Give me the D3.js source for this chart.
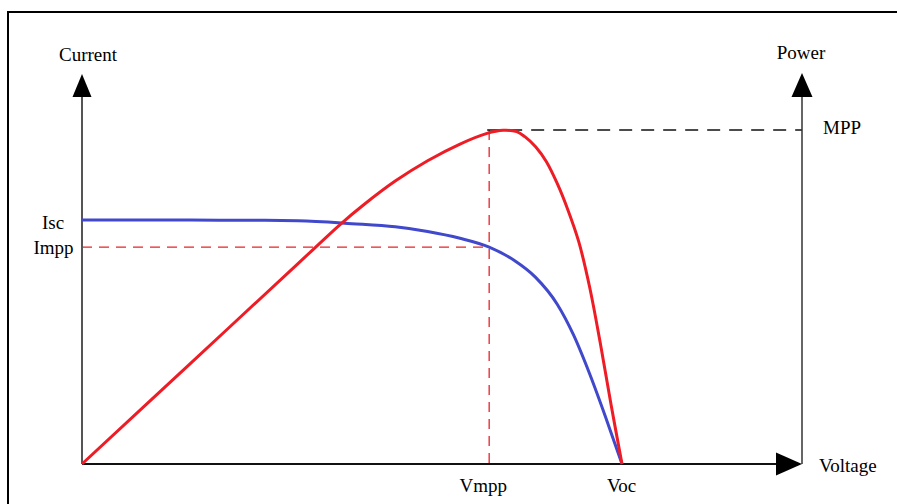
<!DOCTYPE html>
<html><head><meta charset="utf-8">
<script src="https://cdn.jsdelivr.net/npm/d3@7"></script>
<style>html,body{margin:0;padding:0;background:#fff;}svg{display:block;}</style>
</head><body>
<svg id="chart" width="897" height="504"></svg>
<script>
// ---- data (relative units) ----
const ivVoltage = [0, 20, 30, 40, 50, 58, 64, 70, 75.4, 80, 84, 88, 91, 94, 97, 100];
const ivCurrent = [1, 0.9995, 0.999, 0.997, 0.985, 0.972, 0.953, 0.925, 0.889, 0.835, 0.765, 0.655, 0.53, 0.37, 0.19, 0];
const pvVoltage = [0, 20, 40, 48, 52, 58, 64, 70, 75, 78, 80.5, 82, 84, 86, 88, 90, 92, 94, 96, 98, 100];
const pvPower   = [0, 0.30, 0.60, 0.72, 0.774, 0.847, 0.908, 0.958, 0.99, 0.999, 0.995, 0.98, 0.95, 0.905, 0.84, 0.76, 0.665, 0.53, 0.36, 0.175, 0];
const Isc = 1.0, Impp = 0.889, Vmpp = 75.4, Voc = 100, Pmpp = 1.0;
const axisLabels = {current: "Current", power: "Power", voltage: "Voltage"};
const tickLabels = {isc: "Isc", impp: "Impp", vmpp: "Vmpp", voc: "Voc", mpp: "MPP"};

const svg = d3.select("#chart");
const x = d3.scaleLinear().domain([0, 133.33]).range([82, 802]);
const yI = d3.scaleLinear().domain([0, 1.6]).range([464, 73.6]);
const yP = d3.scaleLinear().domain([0, 1.0]).range([464, 130]);

const font = "'Liberation Serif','Times New Roman',serif";

// frame
svg.append("path").attr("d", "M8,504 V12 H897").attr("fill", "none")
  .attr("stroke", "#000").attr("stroke-width", 2);

// guide lines
svg.append("line").attr("x1", x(0)).attr("x2", x(Vmpp)).attr("y1", yI(Impp)).attr("y2", yI(Impp))
  .attr("stroke", "#ea2127").attr("stroke-width", 1.3).attr("stroke-dasharray", "10,7");
svg.append("line").attr("x1", x(Vmpp)).attr("x2", x(Vmpp)).attr("y1", yP(Pmpp)).attr("y2", yP(0))
  .attr("stroke", "#ea2127").attr("stroke-width", 1.3).attr("stroke-dasharray", "10,7");
svg.append("line").attr("x1", x(Vmpp) - 2).attr("x2", x(133.33)).attr("y1", yP(Pmpp)).attr("y2", yP(Pmpp))
  .attr("stroke", "#111").attr("stroke-width", 1.3).attr("stroke-dasharray", "13,9");

// axes
svg.append("line").attr("x1", x(0)).attr("x2", x(0)).attr("y1", yI(0)).attr("y2", 96)
  .attr("stroke", "#555").attr("stroke-width", 2);
svg.append("line").attr("x1", x(133.33)).attr("x2", x(133.33)).attr("y1", yI(0)).attr("y2", 96)
  .attr("stroke", "#333").attr("stroke-width", 1.5);
svg.append("line").attr("x1", x(0)).attr("x2", 780).attr("y1", yI(0)).attr("y2", yI(0))
  .attr("stroke", "#111").attr("stroke-width", 2);

// arrowheads
const ax0 = x(0), axR = x(133.33), ay0 = yI(0);
svg.append("path").attr("d", `M${ax0},74 L${ax0 - 9.5},97 L${ax0 + 9.5},97 Z`).attr("fill", "#000");
svg.append("path").attr("d", `M${axR},73 L${axR - 10.5},97 L${axR + 10.5},97 Z`).attr("fill", "#000");
svg.append("path").attr("d", `M${axR},${ay0} L776,${ay0 - 11.5} L776,${ay0 + 11.5} Z`).attr("fill", "#000");

// curves
const lineIV = d3.line().x((d, i) => x(ivVoltage[i])).y(d => yI(d)).curve(d3.curveMonotoneX);
const linePV = d3.line().x((d, i) => x(pvVoltage[i])).y(d => yP(d)).curve(d3.curveCatmullRom.alpha(0.5));
svg.append("path").attr("d", lineIV(ivCurrent)).attr("fill", "none")
  .attr("stroke", "#4048cc").attr("stroke-width", 3);
svg.append("path").attr("d", linePV(pvPower)).attr("fill", "none")
  .attr("stroke", "#ee1c25").attr("stroke-width", 3);

// labels
function label(t, px, py, anchor) {
  svg.append("text").text(t).attr("x", px).attr("y", py).attr("text-anchor", anchor || "middle")
    .attr("font-family", font).attr("font-size", 19).attr("fill", "#000");
}
label(axisLabels.current, 88, 61);
label(axisLabels.power, 801, 59);
label(axisLabels.voltage, 819, 472, "start");
label(tickLabels.mpp, 823, 134, "start");
label(tickLabels.isc, 53, yI(Isc) + 9);
label(tickLabels.impp, 53.5, yI(Impp) + 7);
label(tickLabels.vmpp, x(Vmpp) - 6, 492);
label(tickLabels.voc, x(Voc) - 0.5, 492);
</script>
</body></html>
